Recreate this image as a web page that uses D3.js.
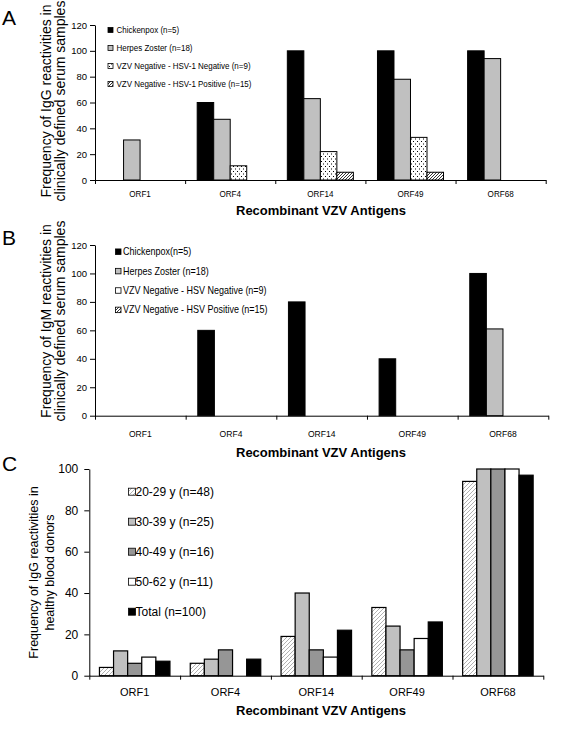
<!DOCTYPE html>
<html><head><meta charset="utf-8">
<script src="https://cdn.jsdelivr.net/npm/d3@7"></script>
<style>body{margin:0;background:#fff} text{font-family:Arial,"Liberation Sans",sans-serif;fill:#000}</style>
</head><body><svg id="c" width="561" height="729"></svg>
<script>
// ---------- DATA ----------
const categories = ["ORF1","ORF4","ORF14","ORF49","ORF68"];
const xTitle = "Recombinant VZV Antigens";
// Panel A (IgG, clinically defined sera)
const seriesA = ["Chickenpox (n=5)","Herpes Zoster (n=18)","VZV Negative - HSV-1 Negative (n=9)","VZV Negative - HSV-1 Positive (n=15)"];
const chickenpoxA = [0,60,100,100,100];
const zosterA = [31,47,63,78,94];
const negNegA = [0,11,22,33,0];
const negPosA = [0,0,6,6,0];
const ticksA = [0,20,40,60,80,100,120];
// Panel B (IgM, clinically defined sera)
const seriesB = ["Chickenpox(n=5)","Herpes Zoster (n=18)","VZV Negative -  HSV Negative (n=9)","VZV Negative -  HSV Positive (n=15)"];
const chickenpoxB = [0,60,80,40,100];
const zosterB = [0,0,0,0,61];
const negNegB = [0,0,0,0,0];
const negPosB = [0,0,0,0,0];
const ticksB = [0,20,40,60,80,100,120];
// Panel C (IgG, healthy blood donors)
const seriesC = ["20-29 y (n=48)","30-39 y (n=25)","40-49 y (n=16)","50-62 y (n=11)","Total (n=100)"];
const age20C = [4,6,19,33,94];
const age30C = [12,8,40,24,100];
const age40C = [6,12.5,12.5,12.5,100];
const age50C = [9,0,9,18,100];
const totalC = [7,8,22,26,97];
const ticksC = [0,20,40,60,80,100];

// ---------- DRAW ----------
const svg = d3.select("#c");
const defs = svg.append("defs");
// dotted
const pd = defs.append("pattern").attr("id","dots").attr("patternUnits","userSpaceOnUse").attr("width",4).attr("height",5);
pd.append("rect").attr("width",4).attr("height",5).attr("fill","#fff");
pd.append("rect").attr("x",1).attr("y",1).attr("width",1).attr("height",1).attr("fill","#000");
pd.append("rect").attr("x",3).attr("y",3.5).attr("width",1).attr("height",1).attr("fill","#000");
// black hatch
const ph = defs.append("pattern").attr("id","hatchA").attr("patternUnits","userSpaceOnUse").attr("width",3).attr("height",3);
ph.append("rect").attr("width",3).attr("height",3).attr("fill","#fff");
ph.append("path").attr("d","M-1,1 L1,-1 M0,3 L3,0 M2,4 L4,2").attr("stroke","#000").attr("stroke-width",0.8);
// grey hatch
const pg = defs.append("pattern").attr("id","hatchC").attr("patternUnits","userSpaceOnUse").attr("width",4).attr("height",4);
pg.append("rect").attr("width",4).attr("height",4).attr("fill","#fff");
pg.append("path").attr("d","M-1,1 L1,-1 M0,4 L4,0 M3,5 L5,3").attr("stroke","#a8a8a8").attr("stroke-width",0.9);

function panel(o){
  const g = svg.append("g");
  const x0 = d3.scaleBand().domain(categories).range(o.xr).padding(0);
  const x1 = d3.scaleBand().domain(o.series).range([0, x0.bandwidth()]).paddingInner(0).paddingOuter(o.pad);
  const y = d3.scaleLinear().domain([0, o.yMax]).range([o.y0, o.yTop]);
  // bars
  o.series.forEach((s,si)=>{
    const vals = o.values[si];
    g.selectAll(null).data(categories.map((c,i)=>({c,v:vals[i]})).filter(d=>d.v>0))
      .enter().append("rect")
      .attr("x",d=>x0(d.c)+x1(s)).attr("width",x1.bandwidth())
      .attr("y",d=>y(d.v)).attr("height",d=>y(0)-y(d.v))
      .attr("fill",o.fills[si]).attr("stroke","#000").attr("stroke-width",o.sw);
  });
  // y axis
  const ya = g.append("g").attr("transform",`translate(${o.xr[0]},0)`)
    .call(d3.axisLeft(y).tickValues(o.ticks).tickSize(5).tickSizeOuter(0).tickPadding(o.tpad).tickFormat(d3.format("d")));
  ya.selectAll("text").attr("font-size",o.tickFont).attr("font-family","Arial, 'Liberation Sans', sans-serif");
  ya.selectAll("line,path").attr("stroke","#000");
  // x axis with boundary ticks
  const xb = d3.scaleLinear().domain([0,categories.length]).range(o.xr);
  const xa = g.append("g").attr("transform",`translate(0,${o.y0})`)
    .call(d3.axisBottom(xb).tickValues(d3.range(categories.length+1)).tickSize(4).tickSizeOuter(0).tickFormat(""));
  xa.selectAll("line,path").attr("stroke","#000");
  // category labels
  g.selectAll(null).data(categories).enter().append("text")
    .attr("transform",d=>`translate(${x0(d)+x0.bandwidth()/2},${o.catY}) scale(${o.catSx},1)`)
    .attr("text-anchor","middle").attr("font-size",o.catFont).text(d=>d);
  // x title
  g.append("text").attr("x",321).attr("y",o.titleY).attr("text-anchor","middle")
    .attr("font-size",13).attr("font-weight","bold").text(xTitle);
  // y title
  o.ytitle.forEach((t,i)=>{
    g.append("text").attr("transform",`translate(${o.ytx[i]},${o.ytCy}) rotate(-90)`)
      .attr("text-anchor","middle").attr("font-size",o.ytFont).text(t);
  });
  // panel letter
  g.append("text").attr("x",2).attr("y",o.letterY).attr("font-size",21).text(o.letter);
  // legend
  o.series.forEach((s,si)=>{
    const cy = o.leg.y + si*o.leg.dy;
    g.append("rect").attr("x",o.leg.mx).attr("y",cy-o.leg.ms/2).attr("width",o.leg.ms).attr("height",o.leg.ms)
      .attr("fill",o.fills[si]).attr("stroke","#000").attr("stroke-width",0.8);
    g.append("text").attr("transform",`translate(${o.leg.tx},${cy}) scale(${o.leg.sx},1)`)
      .attr("dy","0.35em").attr("font-size",o.leg.fs).text(s);
  });
}

panel({
  xr:[95,545.7], y0:180, yTop:25, yMax:120, ticks:ticksA, pad:0.73, sw:1,
  series:seriesA, values:[chickenpoxA,zosterA,negNegA,negPosA],
  fills:["#000","#c0c0c0","url(#dots)","url(#hatchA)"],
  tickFont:9.5, tpad:3, catFont:9, catSx:0.9, catY:197, titleY:215,
  ytitle:["Frequency of IgG reactivities in","clinically defined serum samples"], ytx:[50.5,65], ytCy:101, ytFont:14,
  letter:"A", letterY:25,
  leg:{y:30, dy:18, mx:108, ms:5, tx:116.5, fs:9.5, sx:0.84}
});
panel({
  xr:[95,548.3], y0:415.7, yTop:245, yMax:120, ticks:ticksB, pad:0.73, sw:1,
  series:seriesB, values:[chickenpoxB,zosterB,negNegB,negPosB],
  fills:["#000","#c0c0c0","#fff","url(#hatchA)"],
  tickFont:9.5, tpad:3, catFont:9.5, catSx:0.9, catY:437, titleY:457,
  ytitle:["Frequency of IgM reactivities in","clinically defined serum samples"], ytx:[50.5,65], ytCy:321, ytFont:14,
  letter:"B", letterY:245,
  leg:{y:251.7, dy:19.4, mx:115.5, ms:5.5, tx:123, fs:10, sx:0.9}
});
panel({
  xr:[89.3,543.3], y0:675.7, yTop:469, yMax:100, ticks:ticksC, pad:0.72, sw:1.2,
  series:seriesC, values:[age20C,age30C,age40C,age50C,totalC],
  fills:["url(#hatchC)","#c0c0c0","#969696","#fff","#000"],
  tickFont:12, tpad:6, catFont:11, catSx:1, catY:695.5, titleY:715,
  ytitle:["Frequency of IgG reactivities in","healthy blood donors"], ytx:[38,54], ytCy:572.5, ytFont:12.5,
  letter:"C", letterY:471,
  leg:{y:491.7, dy:30, mx:128.5, ms:7, tx:135.5, fs:12, sx:1}
});
</script></body></html>
